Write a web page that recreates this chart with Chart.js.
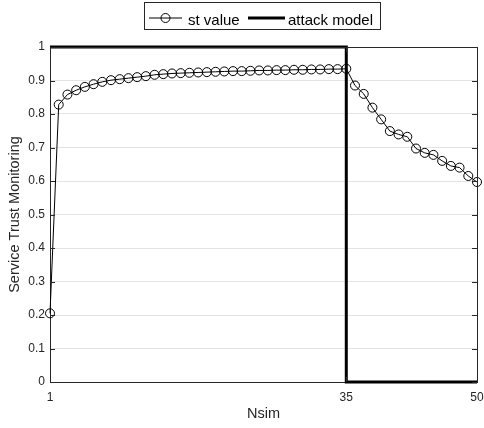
<!DOCTYPE html>
<html>
<head>
<meta charset="utf-8">
<script src="https://cdn.jsdelivr.net/npm/chart.js@4"></script>
<style>
  html, body { margin: 0; padding: 0; background: #fff; }
  #wrap { width: 484px; height: 428px; position: relative; }
</style>
</head>
<body>
<div id="wrap"><canvas id="c" width="484" height="428"></canvas></div>
<script>
// Simulation steps 1..50
const nsim = [1,2,3,4,5,6,7,8,9,10,11,12,13,14,15,16,17,18,19,20,21,22,23,24,25,
              26,27,28,29,30,31,32,33,34,35,36,37,38,39,40,41,42,43,44,45,46,47,48,49,50];
// Service trust value per step
const stValue = [0.205,0.828,0.858,0.871,0.881,0.889,0.896,0.901,0.904,0.907,0.910,0.913,
                 0.917,0.919,0.921,0.922,0.923,0.924,0.925,0.926,0.927,0.928,0.928,0.929,0.930,
                 0.930,0.931,0.931,0.932,0.932,0.933,0.933,0.934,0.934,0.935,
                 0.885,0.860,0.819,0.784,0.749,0.739,0.732,0.697,0.684,0.678,0.660,0.645,0.640,0.615,0.597];
// Attack model: active until step 35, then off
const attackX = [1, 35, 35, 50];
const attackY = [1, 1, 0, 0];
const xTicks = [1, 35, 50];
const seriesNames = ['st value', 'attack model'];

const FONT = 'Liberation Sans, Arial, Helvetica, sans-serif';
const AXIS = '#262626';

const boxAndTicks = {
  id: 'boxAndTicks',
  afterDatasetsDraw(chart) {
    const {ctx, chartArea: a, scales: {x, y}} = chart;
    ctx.save();
    ctx.strokeStyle = AXIS;
    ctx.lineWidth = 1;
    ctx.beginPath();
    ctx.moveTo(a.left, a.top + 0.5); ctx.lineTo(a.right + 0.5, a.top + 0.5);
    ctx.moveTo(a.right + 0.5, a.top); ctx.lineTo(a.right + 0.5, a.bottom);
    // inward tick marks
    const len = 5;
    y.ticks.forEach(t => {
      const py = Math.round(y.getPixelForValue(t.value)) + 0.5;
      ctx.moveTo(a.left, py); ctx.lineTo(a.left + len, py);
      ctx.moveTo(a.right, py); ctx.lineTo(a.right - len, py);
    });
    xTicks.forEach(v => {
      const px = Math.round(x.getPixelForValue(v)) + 0.5;
      ctx.moveTo(px, a.bottom); ctx.lineTo(px, a.bottom - len);
      ctx.moveTo(px, a.top); ctx.lineTo(px, a.top + len);
    });
    ctx.stroke();
    ctx.restore();
  },
  afterDraw(chart) {
    const ctx = chart.ctx;
    ctx.save();
    // legend box
    ctx.fillStyle = '#fff';
    ctx.fillRect(144.5, 2.5, 236, 27);
    ctx.strokeStyle = AXIS;
    ctx.lineWidth = 1;
    ctx.strokeRect(144.5, 2.5, 236, 27);
    const ly = 18;
    // st value symbol
    ctx.strokeStyle = '#000';
    ctx.beginPath();
    ctx.moveTo(149, ly); ctx.lineTo(182, ly);
    ctx.stroke();
    ctx.beginPath();
    ctx.arc(165.5, ly, 4.5, 0, Math.PI * 2);
    ctx.stroke();
    // attack model symbol
    ctx.lineWidth = 3;
    ctx.beginPath();
    ctx.moveTo(248, ly); ctx.lineTo(285, ly);
    ctx.stroke();
    ctx.fillStyle = '#000';
    ctx.font = '15px ' + FONT;
    ctx.textBaseline = 'alphabetic';
    ctx.textAlign = 'left';
    ctx.fillText(seriesNames[0], 188, 25);
    ctx.fillText(seriesNames[1], 288, 25);
    ctx.restore();
  }
};

new Chart(document.getElementById('c'), {
  type: 'line',
  data: {
    datasets: [
      {
        label: seriesNames[0],
        data: nsim.map((n, i) => ({x: n, y: stValue[i]})),
        borderColor: '#000',
        borderWidth: 1,
        backgroundColor: 'rgba(0,0,0,0)',
        pointRadius: 4.5,
        pointBorderWidth: 1,
        pointBorderColor: '#000',
        pointBackgroundColor: 'rgba(0,0,0,0)',
        tension: 0,
        clip: false
      },
      {
        label: seriesNames[1],
        data: attackX.map((v, i) => ({x: v, y: attackY[i]})),
        borderColor: '#000',
        borderWidth: 3,
        pointRadius: 0,
        tension: 0,
        clip: false
      }
    ]
  },
  options: {
    responsive: false,
    animation: false,
    layout: { padding: { top: 47, right: 7, left: 0, bottom: 0 } },
    plugins: { legend: { display: false }, tooltip: { enabled: false } },
    scales: {
      x: {
        type: 'linear',
        min: 1, max: 50,
        afterBuildTicks: s => { s.ticks = xTicks.map(v => ({value: v})); },
        afterFit: s => { s.height = 46; s.paddingLeft = 0; s.paddingRight = 0; },
        grid: { display: true, color: '#e3e3e3', drawTicks: false },
        border: { display: true, color: AXIS, width: 1 },
        ticks: { color: AXIS, font: { family: FONT, size: 12 }, padding: 8, maxRotation: 0 },
        title: { display: true, text: 'Nsim', color: AXIS, font: { family: FONT, size: 14.5 }, padding: { top: 0, bottom: 5 } }
      },
      y: {
        min: 0, max: 1,
        afterFit: s => { s.width = 50; s.paddingTop = 0; s.paddingBottom = 0; },
        grid: { display: true, color: '#e3e3e3', drawTicks: false },
        border: { display: true, color: AXIS, width: 1 },
        ticks: { stepSize: 0.1, color: AXIS, font: { family: FONT, size: 12 }, padding: 5,
                 callback: v => String(Math.round(v * 10) / 10) },
        title: { display: true, text: 'Service Trust Monitoring', color: AXIS, font: { family: FONT, size: 14.5 }, padding: { top: 6, bottom: 0 } }
      }
    }
  },
  plugins: [boxAndTicks]
});
</script>
</body>
</html>
